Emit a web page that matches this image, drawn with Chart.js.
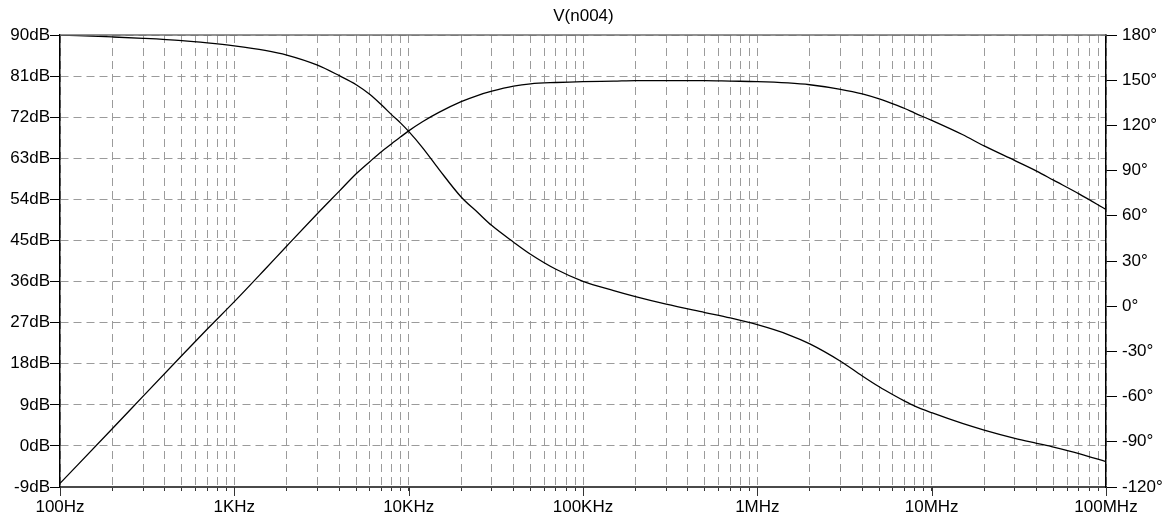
<!DOCTYPE html>
<html>
<head>
<meta charset="utf-8">
<script src="https://cdn.jsdelivr.net/npm/chart.js@4"></script>
<style>
  html, body { margin: 0; padding: 0; background: #fff; }
  #wrap { position: relative; width: 1167px; height: 518px; }
</style>
</head>
<body>
<div id="wrap"><canvas id="c"></canvas></div>
<script>
// ---- data ----
const chartTitle = 'V(n004)';
const freqs = [100,200,300,500,700,1e3,1.5e3,2e3,3e3,4e3,5e3,6e3,7e3,8e3,9e3,1e4,1.2e4,1.5e4,2e4,2.5e4,3e4,4e4,5e4,7e4,
  1e5,1.5e5,2e5,3e5,5e5,7e5,1e6,1.5e6,2e6,3e6,4e6,5e6,6e6,7e6,8e6,1e7,1.5e7,2e7,3e7,4e7,5e7,7e7,1e8];
const magnitudeDb = [-8.2,3.8,10.9,19.8,25.6,31.6,38.7,43.8,50.9,55.8,59.6,62.3,64.5,66.2,67.7,69.0,71.0,73.1,75.4,76.8,77.7,78.8,79.3,79.6,
  79.8,79.9,80.0,80.0,80.0,79.9,79.8,79.5,79.1,78.1,77.1,76.0,74.9,73.9,72.9,71.3,68.2,65.7,62.5,60.2,58.2,55.2,51.8];
const phaseDeg = [180,178.7,177.8,176.3,174.8,172.8,169.8,166.7,160.0,153.0,147.0,140.5,133.5,127.0,121.5,116.0,105.3,90.5,72.5,62.0,53.5,42.5,34.5,24.5,
  16.5,10.3,6.3,1.3,-4.2,-7.8,-12.3,-18.8,-25.0,-36.5,-46.3,-53.5,-58.8,-63.0,-66.3,-70.7,-77.8,-82.2,-87.7,-91.0,-93.5,-97.8,-103.2];
const decadeValues = [1e2,1e3,1e4,1e5,1e6,1e7,1e8];
const decadeLabels = ['100Hz','1KHz','10KHz','100KHz','1MHz','10MHz','100MHz'];
const gridMultipliers = [1,2,3,4,5,6,7,8,9];
const dbTicks = {min: -9, max: 90, step: 9};
const degTicks = {min: -120, max: 180, step: 30};

// build x tick list (1..9 per decade)
const xTickValues = [];
for (let d = 0; d < decadeValues.length - 1; d++) {
  for (const m of gridMultipliers) xTickValues.push(decadeValues[d] * m);
}
xTickValues.push(decadeValues[decadeValues.length - 1]);

const FONT = "'Liberation Sans', Arial, sans-serif";
Chart.defaults.font.family = FONT;
Chart.defaults.color = '#000';

const GRID = 'rgb(155,155,155)';
const DASH = [8, 5];

const frame = {
  id: 'frame',
  afterDraw(chart) {
    const {ctx, chartArea: a, scales} = chart;
    ctx.save();
    ctx.strokeStyle = '#6e6e6e';
    ctx.lineWidth = 1.5;
    ctx.beginPath(); ctx.moveTo(a.left, a.top); ctx.lineTo(a.right, a.top); ctx.stroke();
    ctx.strokeStyle = '#333';
    ctx.lineWidth = 1;
    for (const v of decadeValues) {
      const px = Math.round(scales.x.getPixelForValue(v)) + 0.5;
      ctx.beginPath(); ctx.moveTo(px, a.bottom); ctx.lineTo(px, a.bottom + 9); ctx.stroke();
    }
    ctx.restore();
  }
};

new Chart(document.getElementById('c'), {
  type: 'line',
  data: {
    datasets: [
      {
        label: 'mag',
        data: freqs.map((f, i) => ({x: f, y: magnitudeDb[i]})),
        yAxisID: 'y',
        borderColor: '#000', borderWidth: 1.3, pointRadius: 0,
        cubicInterpolationMode: 'monotone', fill: false
      },
      {
        label: 'phase',
        data: freqs.map((f, i) => ({x: f, y: phaseDeg[i]})),
        yAxisID: 'y1',
        borderColor: '#000', borderWidth: 1.3, pointRadius: 0,
        cubicInterpolationMode: 'monotone', fill: false
      }
    ]
  },
  options: {
    responsive: true,
    maintainAspectRatio: false,
    animation: false,
    layout: {padding: 0},
    plugins: {
      legend: {display: false},
      tooltip: {enabled: false},
      title: {
        display: true, text: chartTitle, color: '#000',
        font: {size: 17, weight: 'normal', family: FONT, lineHeight: 1.2},
        padding: {top: 6, bottom: 8.6}
      }
    },
    scales: {
      x: {
        type: 'logarithmic',
        min: decadeValues[0], max: decadeValues[decadeValues.length - 1],
        afterBuildTicks: s => { s.ticks = xTickValues.map(v => ({value: v})); },
        afterFit: s => { s.height = 31; },
        grid: {
          color: GRID, lineWidth: 1,
          drawTicks: true, tickLength: 4, tickColor: '#333', tickBorderDash: [], tickWidth: 1
        },
        border: {display: true, color: '#4a4a4a', width: 2, dash: DASH},
        ticks: {
          autoSkip: false, maxRotation: 0, minRotation: 0, padding: 6,
          font: {size: 17, family: FONT}, color: '#000',
          callback: (v) => {
            const i = decadeValues.findIndex(d => Math.abs(d - v) / d < 1e-9);
            return i >= 0 ? decadeLabels[i] : '';
          }
        }
      },
      y: {
        type: 'linear', position: 'left',
        min: dbTicks.min, max: dbTicks.max,
        afterFit: s => { s.width = 60; },
        grid: {
          color: GRID, lineWidth: 1,
          drawTicks: true, tickLength: 10, tickColor: '#000', tickBorderDash: [], tickWidth: 1
        },
        border: {display: true, color: '#000', width: 1.5, dash: DASH},
        ticks: {
          stepSize: dbTicks.step, padding: 0,
          font: {size: 17, family: FONT}, color: '#000',
          callback: v => v + 'dB'
        }
      },
      y1: {
        type: 'linear', position: 'right',
        min: degTicks.min, max: degTicks.max,
        afterFit: s => { s.width = 61; },
        grid: {
          drawOnChartArea: false,
          drawTicks: true, tickLength: 11, tickColor: '#000', tickBorderDash: [], tickWidth: 1
        },
        border: {display: true, color: '#000', width: 1.5},
        ticks: {
          stepSize: degTicks.step, padding: 5,
          font: {size: 17, family: FONT}, color: '#000',
          callback: v => v + '°'
        }
      }
    }
  },
  plugins: [frame]
});
</script>
</body>
</html>
